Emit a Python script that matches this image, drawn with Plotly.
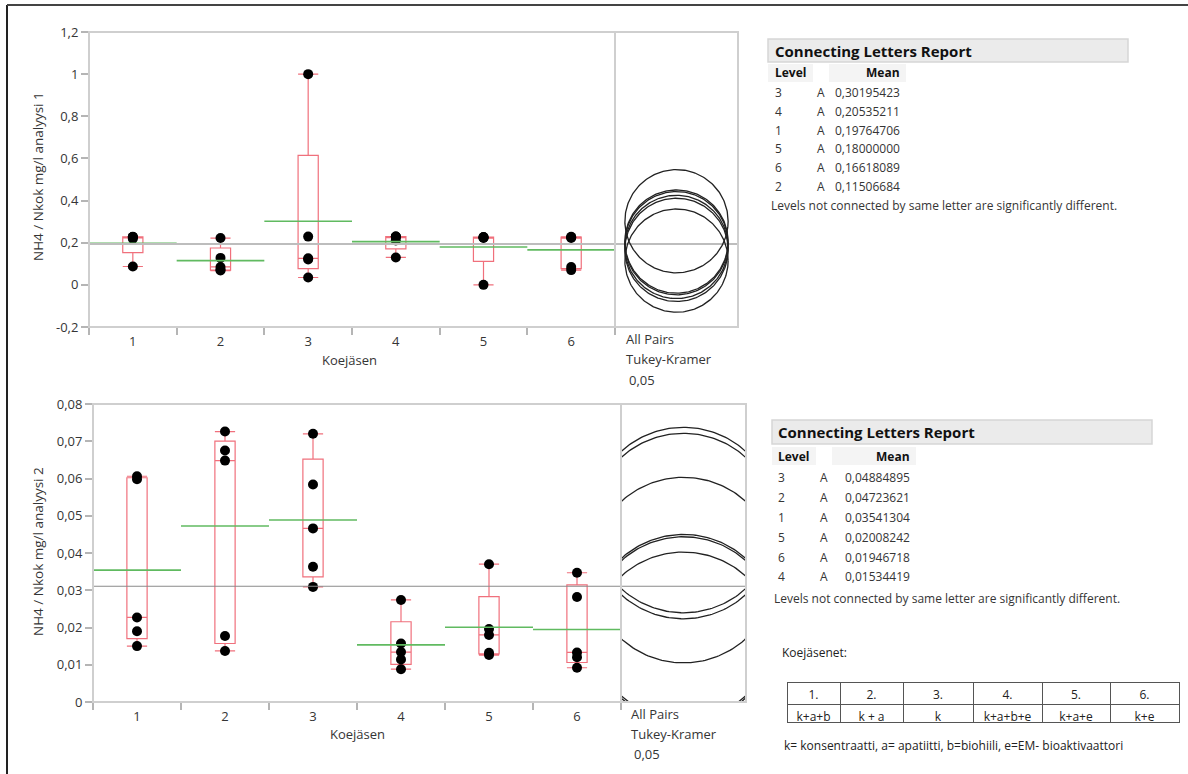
import numpy as np
import plotly.graph_objects as go

# ---------------- data ----------------
levels = [1, 2, 3, 4, 5, 6]
level_labels = ["1", "2", "3", "4", "5", "6"]

# analyysi 1 (top)
top_values = {
    1: [0.087, 0.219, 0.227, 0.227, 0.228],
    2: [0.068, 0.072, 0.085, 0.128, 0.222],
    3: [0.035, 0.120, 0.126, 0.229, 1.000],
    4: [0.130, 0.211, 0.228, 0.229, 0.229],
    5: [0.000, 0.222, 0.225, 0.226, 0.227],
    6: [0.070, 0.085, 0.222, 0.226, 0.228],
}
top_report_levels = ["3", "4", "1", "5", "6", "2"]
top_report_letters = ["A", "A", "A", "A", "A", "A"]
top_report_means = [0.30195423, 0.20535211, 0.19764706, 0.18000000, 0.16618089, 0.11506684]
top_radius = [0.245, 0.245, 0.245, 0.245, 0.245, 0.245]
top_yticks = [-0.2, 0, 0.2, 0.4, 0.6, 0.8, 1.0, 1.2]
top_yticktext = ["-0,2", "0", "0,2", "0,4", "0,6", "0,8", "1", "1,2"]

# analyysi 2 (bottom)
bot_values = {
    1: [0.0150, 0.0190, 0.0227, 0.0598, 0.0606],
    2: [0.0137, 0.0177, 0.0648, 0.0675, 0.0726],
    3: [0.0309, 0.0363, 0.0466, 0.0584, 0.0720],
    4: [0.0088, 0.0114, 0.0134, 0.0157, 0.0274],
    5: [0.0126, 0.0132, 0.0180, 0.0196, 0.0370],
    6: [0.0092, 0.0120, 0.0133, 0.0282, 0.0347],
}
bot_report_levels = ["3", "2", "1", "5", "6", "4"]
bot_report_letters = ["A", "A", "A", "A", "A", "A"]
bot_report_means = [0.04884895, 0.04723621, 0.03541304, 0.02008242, 0.01946718, 0.01534419]
bot_radius = [0.0249, 0.0249, 0.0249, 0.0249, 0.0249, 0.0249]
bot_yticks = [0, 0.01, 0.02, 0.03, 0.04, 0.05, 0.06, 0.07, 0.08]
bot_yticktext = ["0", "0,01", "0,02", "0,03", "0,04", "0,05", "0,06", "0,07", "0,08"]

members_head = ["1.", "2.", "3.", "4.", "5.", "6."]
members_code = ["k+a+b", "k + a", "k", "k+a+b+e", "k+a+e", "k+e"]

# ---------------- layout helpers ----------------
W, H = 1188, 774
FONT = "Open Sans"
TXT = "#353535"
FRAME = "#cfcfcf"
BOXC = "rgb(240,112,124)"
GREEN = "rgb(96,186,96)"


def px(x):
    return x / W


def py(y):
    return 1 - y / H


fig = go.Figure()

panels = [
    dict(vals=top_values, rl=top_report_levels, rm=top_report_means, rad=top_radius,
         ticks=top_yticks, ticktext=top_yticktext, yr=[-0.2, 1.2],
         main=(89, 615), side=(615, 738), yy=(32, 327), xa="x", ya="y", xa2="x2",
         gm_color="#bdbdbd", gm_w=2),
    dict(vals=bot_values, rl=bot_report_levels, rm=bot_report_means, rad=bot_radius,
         ticks=bot_yticks, ticktext=bot_yticktext, yr=[0, 0.08],
         main=(93, 621), side=(621, 746), yy=(404, 702), xa="x3", ya="y3", xa2="x4",
         gm_color="#8a8a8a", gm_w=1),
]

shapes = []
for p in panels:
    vals = p["vals"]
    xs, ys = [], []
    for lv in levels:
        xs += [lv] * len(vals[lv])
        ys += vals[lv]
    fig.add_trace(go.Box(
        x=xs, y=ys, xaxis=p["xa"], yaxis=p["ya"],
        boxpoints="all", jitter=0, pointpos=0, width=0.23, whiskerwidth=1,
        quartilemethod="exclusive",
        line=dict(color=BOXC, width=1.2), fillcolor="rgba(0,0,0,0)",
        marker=dict(color="black", size=10), hoverinfo="skip", showlegend=False))

    # mean lines
    mean_of = {int(l): m for l, m in zip(p["rl"], p["rm"])}
    gx, gy = [], []
    for lv in levels:
        gx += [lv - 0.5, lv + 0.5, None]
        gy += [mean_of[lv], mean_of[lv], None]
    fig.add_trace(go.Scatter(x=gx, y=gy, mode="lines", xaxis=p["xa"], yaxis=p["ya"],
                             line=dict(color=GREEN, width=1.6), hoverinfo="skip", showlegend=False))

    grand = float(np.mean(ys))
    sw = p["side"][1] - p["side"][0]
    fig.add_trace(go.Scatter(x=[0.5, 6.5], y=[grand, grand], mode="lines", xaxis=p["xa"], yaxis=p["ya"],
                             line=dict(color=p["gm_color"], width=p["gm_w"]), hoverinfo="skip", showlegend=False))
    fig.add_trace(go.Scatter(x=[-sw / 2, sw / 2], y=[grand, grand], mode="lines", xaxis=p["xa2"], yaxis=p["ya"],
                             line=dict(color=p["gm_color"], width=p["gm_w"]), hoverinfo="skip", showlegend=False))

    # comparison circles (pixel-round)
    ppu = (p["yy"][1] - p["yy"][0]) / (p["yr"][1] - p["yr"][0])
    t = np.linspace(0, 2 * np.pi, 241)
    for lv, r in zip(levels, p["rad"]):
        cy = mean_of[lv]
        fig.add_trace(go.Scatter(x=r * ppu * np.cos(t), y=cy + r * np.sin(t), mode="lines",
                                 xaxis=p["xa2"], yaxis=p["ya"], line=dict(color="#222222", width=1.3),
                                 hoverinfo="skip", showlegend=False))

    xn = p["xa"].replace("x", "xaxis") if p["xa"] != "x" else "xaxis"
    yn = p["ya"].replace("y", "yaxis") if p["ya"] != "y" else "yaxis"
    xn2 = p["xa2"].replace("x", "xaxis")
    fig.update_layout(**{
        xn: dict(domain=[px(p["main"][0]), px(p["main"][1])], range=[0.5, 6.5], anchor=p["ya"],
                 tickmode="array", tickvals=levels, ticktext=level_labels, ticks="",
                 ticklabelstandoff=5, automargin=False,
                 minor=dict(ticks="outside", tickmode="array", tickvals=[0.5, 1.5, 2.5, 3.5, 4.5, 5.5, 6.5],
                            ticklen=7, tickwidth=1.5, tickcolor="#b5b5b5"),
                 showgrid=False, zeroline=False, showline=False,
                 tickfont=dict(family=FONT, size=13, color=TXT)),
        yn: dict(domain=[py(p["yy"][1]), py(p["yy"][0])], range=p["yr"], anchor=p["xa"],
                 tickmode="array", tickvals=p["ticks"], ticktext=p["ticktext"], automargin=False,
                 ticks="outside", ticklen=7, tickwidth=1.5, tickcolor="#b5b5b5",
                 showgrid=False, zeroline=False, showline=False,
                 tickfont=dict(family=FONT, size=13, color=TXT)),
        xn2: dict(domain=[px(p["side"][0]), px(p["side"][1])], range=[-sw / 2, sw / 2], anchor=p["ya"],
                  automargin=False,
                  showticklabels=False, ticks="", showgrid=False, zeroline=False, showline=False),
    })
    shapes.append(dict(type="rect", xref=f"{p['xa']} domain", yref=f"{p['ya']} domain",
                       x0=0, x1=1, y0=0, y1=1, line=dict(color=FRAME, width=2), layer="above"))
    shapes.append(dict(type="rect", xref=f"{p['xa2']} domain", yref=f"{p['ya']} domain",
                       x0=0, x1=1, y0=0, y1=1, line=dict(color=FRAME, width=2), layer="above"))

# outer border (left & top)
shapes.append(dict(type="line", xref="paper", yref="paper", x0=px(7), x1=px(7), y0=0, y1=py(5),
                   line=dict(color="#222", width=2)))
shapes.append(dict(type="line", xref="paper", yref="paper", x0=px(7), x1=1, y0=py(5), y1=py(5),
                   line=dict(color="#444", width=2)))

annotations = []


def ann(text, x, y, size=13, xanchor="left", bold=False, angle=0, color=TXT):
    annotations.append(dict(text=f"<b>{text}</b>" if bold else text, x=px(x), y=py(y), xref="paper",
                            yref="paper", showarrow=False, xanchor=xanchor, yanchor="middle",
                            textangle=angle, font=dict(family=FONT, size=size, color=color)))


# axis titles
ann("NH4 / Nkok mg/l analyysi 1", 38, 177, size=13.5, xanchor="center", angle=-90)
ann("NH4 / Nkok mg/l analyysi 2", 38, 552, size=13.5, xanchor="center", angle=-90)
ann("Koejäsen", 349, 360, xanchor="center")
ann("Koejäsen", 357, 734, xanchor="center")
for (x0, ys) in [(624, (339, 359, 380)), (629, (714, 734, 754))]:
    ann("All Pairs", x0, ys[0])
    ann("Tukey-Kramer", x0, ys[1])
    ann("0,05", x0 + 3, ys[2])

# connecting letters reports
reports = [
    dict(levels=top_report_levels, letters=top_report_letters, means=top_report_means,
         box=(768, 1128, 39, 62), x=773, hy=51, ly=73, rows=[92.5, 111.5, 130.5, 149, 167.5, 186], ax=821,
         mx=902, note=(769, 205.5)),
    dict(levels=bot_report_levels, letters=bot_report_letters, means=bot_report_means,
         box=(772, 1152, 420, 444), x=776, hy=432, ly=456, rows=[477.5, 497, 517, 537, 557, 576.5], ax=824,
         mx=912, note=(772, 598.5)),
]
for r in reports:
    b = r["box"]
    shapes.append(dict(type="rect", xref="paper", yref="paper", x0=px(b[0]), x1=px(b[1]), y0=py(b[3]),
                       y1=py(b[2]), fillcolor="#ebebeb", line=dict(color="#d6d6d6", width=1.5), layer="below"))
    shapes.append(dict(type="rect", xref="paper", yref="paper", x0=px(b[0]), x1=px(r["x"] + 40),
                       y0=py(r["ly"] + 9), y1=py(r["ly"] - 9), fillcolor="#f4f4f4", line=dict(width=0), layer="below"))
    shapes.append(dict(type="rect", xref="paper", yref="paper", x0=px(r["ax"] + 8), x1=px(r["mx"] + 4),
                       y0=py(r["ly"] + 9), y1=py(r["ly"] - 9), fillcolor="#f4f4f4", line=dict(width=0), layer="below"))
    ann("Connecting Letters Report", r["x"], r["hy"], size=15, bold=True, color="#111")
    ann("Level", r["x"], r["ly"], size=12, bold=True, color="#111")
    ann("Mean", r["mx"], r["ly"], size=12, bold=True, xanchor="right", color="#111")
    for lv, le, m, yy in zip(r["levels"], r["letters"], r["means"], r["rows"]):
        ann(lv, r["x"], yy, size=12)
        ann(le, r["ax"], yy, size=12, xanchor="center")
        ann(f"{m:.8f}".replace(".", ","), r["mx"], yy, size=12, xanchor="right")
    ann("Levels not connected by same letter are significantly different.", r["note"][0], r["note"][1], size=12)

# Koejäsenet table
ann("Koejäsenet:", 780, 652, size=12, color="#222")
fig.add_trace(go.Table(
    domain=dict(x=[px(787), px(1179)], y=[py(740), py(682)]),
    columnwidth=[53, 63, 70, 69, 68, 69],
    header=dict(values=members_head, height=22, align="center", fill_color="white",
                line=dict(color="#555", width=1), font=dict(family=FONT, size=12, color="#222")),
    cells=dict(values=[[c] for c in members_code], height=18, align="center", fill_color="white",
               line=dict(color="#555", width=1), font=dict(family=FONT, size=12, color="#222")),
))
ann("k= konsentraatti, a= apatiitti, b=biohiili, e=EM- bioaktivaattori", 782, 745, size=12, color="#222")

fig.update_layout(width=W, height=H, margin=dict(l=0, r=0, t=0, b=0, pad=0, autoexpand=False),
                  paper_bgcolor="white",
                  plot_bgcolor="rgba(0,0,0,0)", showlegend=False, shapes=shapes, annotations=annotations,
                  boxmode="overlay")
fig.write_html("out.html", config={"displayModeBar": False},
               post_script="document.body.style.margin='0';var d=document.getElementById('{plot_id}');"
                           "d.style.position='fixed';d.style.left='0px';d.style.top='0px';")
